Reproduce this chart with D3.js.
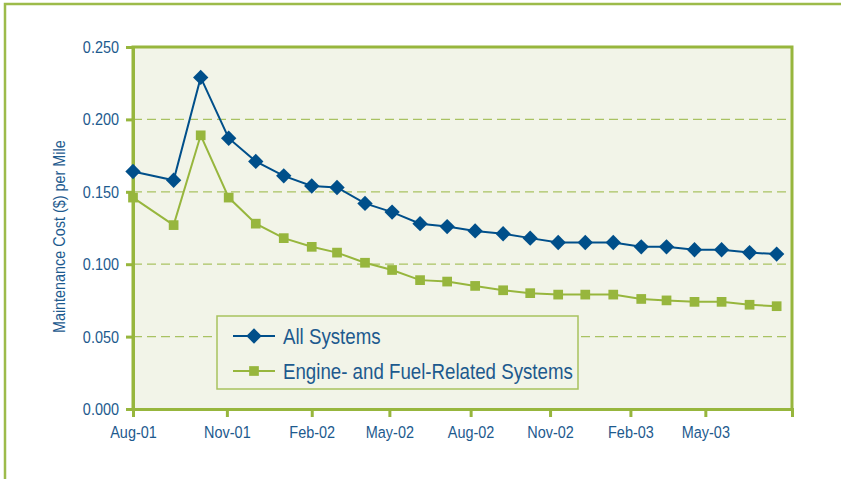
<!DOCTYPE html>
<html>
<head>
<meta charset="utf-8">
<script src="https://cdn.jsdelivr.net/npm/d3@7"></script>
<style>
body { margin: 0; background: #fff; }
svg text { font-family: "Liberation Sans", Arial, sans-serif; }
</style>
</head>
<body>
<div id="chart"></div>
<script>
// data
var months = ["2001-08-01","2001-09-15","2001-10-15","2001-11-15","2001-12-15","2002-01-15",
  "2002-02-15","2002-03-15","2002-04-15","2002-05-15","2002-06-15","2002-07-15",
  "2002-08-15","2002-09-15","2002-10-15","2002-11-15","2002-12-15","2003-01-15",
  "2003-02-15","2003-03-15","2003-04-15","2003-05-15","2003-06-15","2003-07-15"]
var allSystems = [0.164, 0.158, 0.229, 0.187, 0.171, 0.161, 0.154, 0.153, 0.142, 0.136, 0.128, 0.126,
  0.123, 0.121, 0.118, 0.115, 0.115, 0.115, 0.112, 0.112, 0.110, 0.110, 0.108, 0.107]
var engineFuel = [0.146, 0.127, 0.189, 0.146, 0.128, 0.118, 0.112, 0.108, 0.101, 0.096, 0.089, 0.088,
  0.085, 0.082, 0.080, 0.079, 0.079, 0.079, 0.076, 0.075, 0.074, 0.074, 0.072, 0.071]
var tickLabels = ["Aug-01","Nov-01","Feb-02","May-02","Aug-02","Nov-02","Feb-03","May-03"]
var tickDates = ["2001-08-01","2001-11-13","2002-02-15","2002-05-12","2002-08-10","2002-11-06","2003-02-03","2003-04-27"]
var yTicks = [0, 0.05, 0.10, 0.15, 0.20, 0.25]
var seriesNames = ["All Systems", "Engine- and Fuel-Related Systems"]

var blue = "#004f8a", green = "#97b63d", textBlue = "#1d5a8e", bg = "#f2f4e8"

var W = 841, H = 479
var margin = {top: 47, right: 49, bottom: 70, left: 133},
width = W - margin.left - margin.right,
height = H - margin.top - margin.bottom;

var parse = d3.timeParse("%Y-%m-%d")

var svg = d3.select("#chart")
.append("svg")
.attr("width", W)
.attr("height", H)

// outer frame (open at right and bottom)
svg.append("path")
.attr("d", "M5,479V4H841")
.attr("fill", "none")
.attr("stroke", "#9dbb4a")
.attr("stroke-width", 2.5)

var g = svg.append("g")
.attr("transform", "translate(" + margin.left + "," + margin.top + ")");

var x = d3.scaleTime()
.domain([parse("2001-08-01"), parse("2003-08-01")])
.range([0, width])

var y = d3.scaleLinear()
.domain([0, 0.25])
.range([height, 0])

g.append("rect")
.attr("width", width)
.attr("height", height)
.attr("fill", bg)

// gridlines
g.selectAll(".grid")
.data(yTicks.filter(function(d){ return d > 0 && d < 0.25 }))
.enter()
.append("line")
.attr("x1", 0)
.attr("x2", width)
.attr("y1", function(d){ return y(d) })
.attr("y2", function(d){ return y(d) })
.attr("stroke", "#a9c262")
.attr("stroke-width", 1.3)
.attr("stroke-dasharray", "9,5")

// plot frame
g.append("path")
.attr("d", "M0," + height + "V0H" + width + "V" + height)
.attr("fill", "none")
.attr("stroke", green)
.attr("stroke-width", 3)

// narrow type: Arial squeezed sideways
var sq = 0.85

// y axis
var yAxis = g.append("g")
.call(d3.axisLeft(y).tickValues(yTicks).tickFormat(d3.format(".3f")).tickSize(7).tickPadding(7))
yAxis.select(".domain").attr("stroke", green).attr("stroke-width", 3)
yAxis.selectAll(".tick line").attr("stroke", green).attr("stroke-width", 3)
yAxis.selectAll(".tick text")
.attr("fill", textBlue)
.style("font-size", "17px")
.attr("x", -14 / sq)
.attr("transform", "scale(" + sq + ",1)")

// x axis
var xAxis = g.append("g")
.attr("transform", "translate(0," + height + ")")
.call(d3.axisBottom(x).tickValues(tickDates.map(parse))
  .tickFormat(function(d, i){ return tickLabels[i] }).tickSize(8).tickPadding(9))
xAxis.select(".domain").attr("stroke", green).attr("stroke-width", 3)
xAxis.selectAll(".tick line").attr("stroke", green).attr("stroke-width", 3)
xAxis.selectAll(".tick text")
.attr("fill", textBlue)
.style("font-size", "17px")
.attr("transform", "scale(" + sq + ",1)")

// y title
g.append("text")
.attr("transform", "translate(-68," + y(0.119) + ")rotate(-90)scale(0.9,1)")
.attr("text-anchor", "middle")
.attr("fill", textBlue)
.style("font-size", "16px")
.text("Maintenance Cost ($) per Mile")

var line = d3.line()
.x(function(d){ return x(parse(d.m)) })
.y(function(d){ return y(d.v) })

function pts(vals) {
  return vals.map(function(v, i){ return {m: months[i], v: v} })
}

var diamond = d3.symbol().type(d3.symbolDiamond2).size(150)
var square = d3.symbol().type(d3.symbolSquare2).size(120)

// Engine series
g.append("path")
.datum(pts(engineFuel))
.attr("d", line)
.attr("fill", "none")
.attr("stroke", green)
.attr("stroke-width", 2)

g.selectAll(".sq")
.data(pts(engineFuel))
.enter()
.append("path")
.attr("transform", function(d){ return "translate(" + x(parse(d.m)) + "," + y(d.v) + ")" })
.attr("d", square)
.attr("fill", green)

// All systems
g.append("path")
.datum(pts(allSystems))
.attr("d", line)
.attr("fill", "none")
.attr("stroke", blue)
.attr("stroke-width", 2)

g.selectAll(".dm")
.data(pts(allSystems))
.enter()
.append("path")
.attr("transform", function(d){ return "translate(" + x(parse(d.m)) + "," + y(d.v) + ")" })
.attr("d", diamond)
.attr("fill", blue)

// legend
var lg = svg.append("g").attr("transform", "translate(217,316)")
lg.append("rect")
.attr("width", 361)
.attr("height", 73)
.attr("fill", bg)
.attr("stroke", "#a8c25e")
.attr("stroke-width", 1.5)

var rows = lg.selectAll(".row")
.data(seriesNames)
.enter()
.append("g")
.attr("transform", function(d, i){ return "translate(0," + (20 + i * 35) + ")" })

rows.append("line")
.attr("x1", 16).attr("x2", 58)
.attr("stroke", function(d, i){ return i == 0 ? blue : green })
.attr("stroke-width", 2)

rows.append("path")
.attr("transform", "translate(37,0)")
.attr("d", function(d, i){ return i == 0 ? diamond() : square() })
.attr("fill", function(d, i){ return i == 0 ? blue : green })

rows.append("text")
.attr("transform", "translate(66,0)scale(" + sq + ",1)")
.attr("dy", "0.36em")
.attr("fill", textBlue)
.style("font-size", "22px")
.text(function(d){ return d })
</script>
</body>
</html>
